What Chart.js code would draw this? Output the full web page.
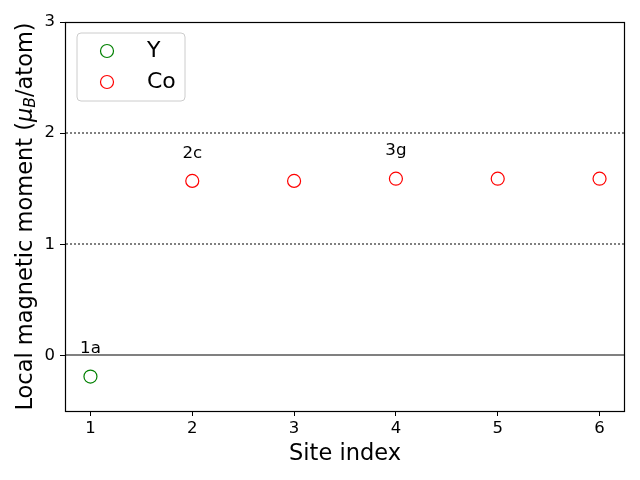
<!DOCTYPE html>
<html>
<head>
<meta charset="utf-8">
<script src="https://cdn.jsdelivr.net/npm/chart.js@4.4.0/dist/chart.umd.min.js"></script>
<style>
html,body{margin:0;padding:0;background:#fff;}
#wrap{width:640px;height:480px;}
</style>
</head>
<body>
<div id="wrap"><canvas id="c" width="640" height="480"></canvas></div>
<script>
// ---- data ----
const ySites = [1];
const yMoments = [-0.19];
const coSites = [2, 3, 4, 5, 6];
const coMoments = [1.57, 1.57, 1.59, 1.59, 1.59];
const xTicks = [1, 2, 3, 4, 5, 6];
const yTicks = [0, 1, 2, 3];
const wyckoffSites = [1, 2, 4];
const wyckoffMoments = [-0.19, 1.57, 1.59];
const wyckoffLabels = ['1a', '2c', '3g'];
const dottedLevels = [1, 2];
const solidLevels = [0];

const FONT = "'DejaVu Sans', sans-serif";

const overlay = {
  id: 'overlay',
  beforeDatasetsDraw(chart) {
    const {ctx, chartArea: a, scales: {x, y}} = chart;
    ctx.save();
    ctx.strokeStyle = '#808080';
    ctx.lineWidth = 2;
    ctx.setLineDash([2, 2]);
    dottedLevels.forEach(v => {
      const py = Math.round(y.getPixelForValue(v));
      ctx.beginPath(); ctx.moveTo(a.left + 1, py); ctx.lineTo(a.right, py); ctx.stroke();
    });
    ctx.setLineDash([]);
    ctx.lineWidth = 2;
    solidLevels.forEach(v => {
      const py = Math.round(y.getPixelForValue(v));
      ctx.beginPath(); ctx.moveTo(a.left, py); ctx.lineTo(a.right, py); ctx.stroke();
    });
    ctx.restore();
  },
  afterDraw(chart) {
    const {ctx, chartArea: a, scales: {x, y}} = chart;
    ctx.save();
    // frame
    ctx.strokeStyle = '#000';
    ctx.lineWidth = 1.2;
    ctx.strokeRect(Math.round(a.left) + 0.5, Math.round(a.top) + 0.5, Math.round(a.right - a.left) - 1, Math.round(a.bottom - a.top));
    // annotations
    ctx.fillStyle = '#000';
    ctx.font = '16.7px ' + FONT;
    ctx.textAlign = 'center';
    ctx.textBaseline = 'alphabetic';
    wyckoffLabels.forEach((t, i) => {
      ctx.fillText(t, x.getPixelForValue(wyckoffSites[i]), y.getPixelForValue(wyckoffMoments[i] + 0.2) - 1);
    });
    // x title
    ctx.font = '22.5px ' + FONT;
    ctx.textBaseline = 'middle';
    ctx.fillText('Site index', (a.left + a.right) / 2, 454);
    // y title with mathtext
    ctx.translate(26, (a.top + a.bottom) / 2);
    ctx.rotate(-Math.PI / 2);
    const parts = [
      {t: 'Local magnetic moment (', f: '22.5px ' + FONT, dy: 0},
      {t: 'μ', f: 'oblique 22.5px ' + FONT, dy: 0},
      {t: 'B', f: 'oblique 15.5px ' + FONT, dy: 5},
      {t: '/atom)', f: '22.5px ' + FONT, dy: 0}
    ];
    let total = 0;
    parts.forEach(p => { ctx.font = p.f; p.w = ctx.measureText(p.t).width; total += p.w; });
    let cx = -total / 2;
    ctx.textAlign = 'left';
    parts.forEach(p => { ctx.font = p.f; ctx.fillText(p.t, cx, p.dy); cx += p.w; });
    ctx.restore();
    // legend
    ctx.save();
    const lx = 77, ly = 33, lw = 108, lh = 68, r = 4;
    ctx.beginPath();
    ctx.moveTo(lx + r, ly); ctx.lineTo(lx + lw - r, ly); ctx.arcTo(lx + lw, ly, lx + lw, ly + r, r);
    ctx.lineTo(lx + lw, ly + lh - r); ctx.arcTo(lx + lw, ly + lh, lx + lw - r, ly + lh, r);
    ctx.lineTo(lx + r, ly + lh); ctx.arcTo(lx, ly + lh, lx, ly + lh - r, r);
    ctx.lineTo(lx, ly + r); ctx.arcTo(lx, ly, lx + r, ly, r); ctx.closePath();
    ctx.fillStyle = 'rgba(255,255,255,0.8)'; ctx.fill();
    ctx.strokeStyle = '#cccccc'; ctx.lineWidth = 1; ctx.stroke();
    chart.data.datasets.forEach((ds, i) => {
      const my = 51 + i * 31;
      ctx.beginPath(); ctx.arc(107, my, 6.5, 0, Math.PI * 2);
      ctx.strokeStyle = ds.borderColor; ctx.lineWidth = 1.2; ctx.stroke();
      ctx.fillStyle = '#000'; ctx.font = '22px ' + FONT; ctx.textAlign = 'left'; ctx.textBaseline = 'middle';
      ctx.fillText(ds.label, 147, my);
    });
    ctx.restore();
  }
};

const tickFont = {family: FONT, size: 16.5};

new Chart(document.getElementById('c'), {
  type: 'scatter',
  data: {
    datasets: [
      {label: 'Y', data: ySites.map((s, i) => ({x: s, y: yMoments[i]})), borderColor: 'green', backgroundColor: 'rgba(0,0,0,0)', pointRadius: 6.5, pointHoverRadius: 6.5, borderWidth: 1.2},
      {label: 'Co', data: coSites.map((s, i) => ({x: s, y: coMoments[i]})), borderColor: 'red', backgroundColor: 'rgba(0,0,0,0)', pointRadius: 6.5, pointHoverRadius: 6.5, borderWidth: 1.2}
    ]
  },
  options: {
    responsive: false,
    animation: false,
    devicePixelRatio: 1,
    layout: {padding: {top: 22, right: 15, left: 0, bottom: 0}},
    plugins: {legend: {display: false}, tooltip: {enabled: false}},
    scales: {
      x: {
        type: 'linear', min: 0.75, max: 6.25,
        afterBuildTicks: s => { s.ticks = xTicks.map(v => ({value: v})); },
        afterFit: s => { s.height = 69; },
        ticks: {font: tickFont, color: '#000', padding: 3, maxRotation: 0, autoSkip: false},
        grid: {drawOnChartArea: false, drawTicks: true, tickLength: 5, color: '#000', tickWidth: 1},
        border: {display: false}
      },
      y: {
        type: 'linear', min: -0.5, max: 3,
        afterBuildTicks: s => { s.ticks = yTicks.map(v => ({value: v})); },
        afterFit: s => { s.width = 65; },
        ticks: {font: tickFont, color: '#000', padding: 5, autoSkip: false},
        grid: {drawOnChartArea: false, drawTicks: true, tickLength: 5, color: '#000', tickWidth: 1},
        border: {display: false}
      }
    }
  },
  plugins: [overlay]
});
</script>
</body>
</html>
